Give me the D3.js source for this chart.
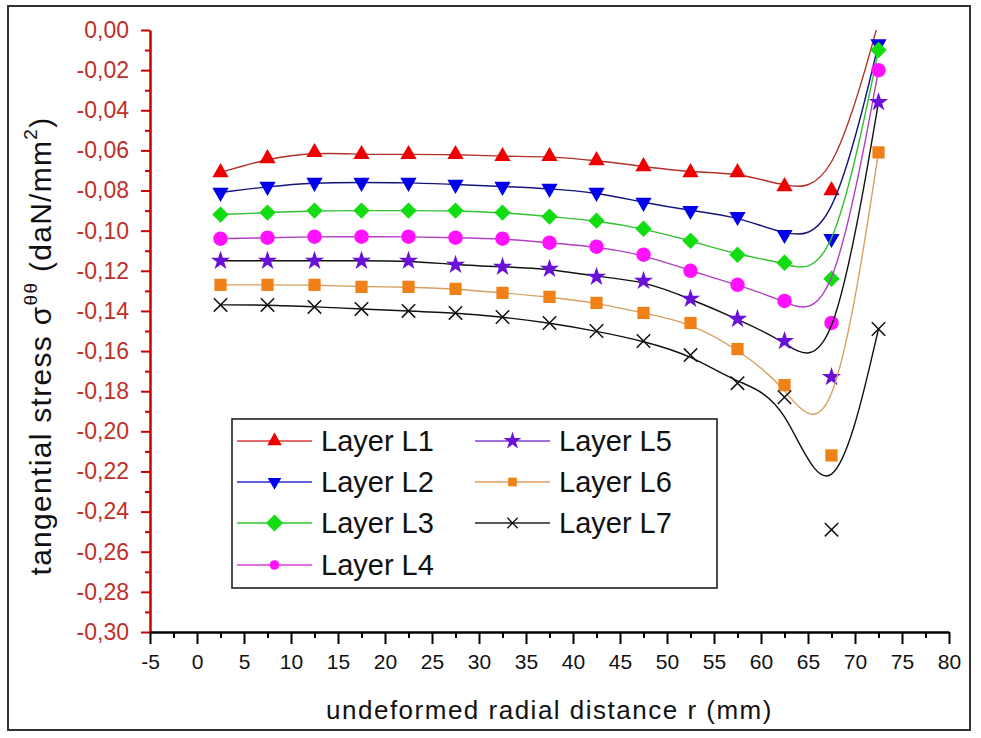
<!DOCTYPE html>
<html>
<head>
<meta charset="utf-8">
<script src="https://cdn.jsdelivr.net/npm/d3@7"></script>
<style>
  html, body { margin: 0; padding: 0; background: #fff; }
  svg text { font-family: "Liberation Sans", Arial, sans-serif; }
</style>
</head>
<body>
<div id="chart"></div>
<script>
// radial positions (mm)
const radius = [2.5, 7.5, 12.5, 17.5, 22.5, 27.5, 32.5, 37.5, 42.5, 47.5, 52.5, 57.5, 62.5, 67.5, 72.5];

// tangential stress per layer (daN/mm2)
const layerL1 = [-0.071, -0.064, -0.061, -0.062, -0.062, -0.062, -0.063, -0.063, -0.065, -0.068, -0.071, -0.071, -0.078, -0.080, 0.004];
const layerL2 = [-0.081, -0.078, -0.076, -0.076, -0.076, -0.077, -0.078, -0.079, -0.081, -0.086, -0.090, -0.093, -0.102, -0.104, -0.007];
const layerL3 = [-0.092, -0.091, -0.090, -0.090, -0.090, -0.090, -0.091, -0.093, -0.095, -0.099, -0.105, -0.112, -0.116, -0.124, -0.010];
const layerL4 = [-0.104, -0.1035, -0.103, -0.103, -0.103, -0.1035, -0.104, -0.106, -0.108, -0.112, -0.120, -0.127, -0.135, -0.146, -0.020];
const layerL5 = [-0.115, -0.115, -0.115, -0.115, -0.115, -0.117, -0.118, -0.119, -0.123, -0.125, -0.134, -0.144, -0.155, -0.173, -0.036];
const layerL6 = [-0.127, -0.127, -0.127, -0.128, -0.128, -0.129, -0.131, -0.133, -0.136, -0.141, -0.146, -0.159, -0.177, -0.212, -0.061];
const layerL7 = [-0.137, -0.137, -0.138, -0.139, -0.140, -0.141, -0.143, -0.146, -0.150, -0.155, -0.162, -0.176, -0.183, -0.249, -0.149];

const layerNames = ["Layer L1", "Layer L2", "Layer L3", "Layer L4", "Layer L5", "Layer L6", "Layer L7"];

// axis ticks
const xTicks = [-5, 0, 5, 10, 15, 20, 25, 30, 35, 40, 45, 50, 55, 60, 65, 70, 75, 80];
const xMinorTicks = [-2.5, 2.5, 7.5, 12.5, 17.5, 22.5, 27.5, 32.5, 37.5, 42.5, 47.5, 52.5, 57.5, 62.5, 67.5, 72.5, 77.5];
const yTicks = [0, -0.02, -0.04, -0.06, -0.08, -0.10, -0.12, -0.14, -0.16, -0.18, -0.20, -0.22, -0.24, -0.26, -0.28, -0.30];
const yTickLabels = ["0,00", "-0,02", "-0,04", "-0,06", "-0,08", "-0,10", "-0,12", "-0,14", "-0,16", "-0,18", "-0,20", "-0,22", "-0,24", "-0,26", "-0,28", "-0,30"];
const yMinorTicks = [-0.01, -0.03, -0.05, -0.07, -0.09, -0.11, -0.13, -0.15, -0.17, -0.19, -0.21, -0.23, -0.25, -0.27, -0.29];

// an "x" marker, in case this d3 build has no symbolTimes
const symbolX = {
    draw(context, size) {
        const r = Math.sqrt(size) / 2;
        context.moveTo(-r, -r); context.lineTo(r, r);
        context.moveTo(r, -r); context.lineTo(-r, r);
    }
};

// one style per layer: marker shape, marker colour, line colour in plot / legend
const styles = [
    { values: layerL1, shape: d3.symbolTriangle, rot: 0, size: 115, fill: "#ee0000", line: "#b0302a", legendLine: "#e03a3a" },
    { values: layerL2, shape: d3.symbolTriangle, rot: 180, size: 115, fill: "#0000ee", line: "#14147a", legendLine: "#2a2ad0" },
    { values: layerL3, shape: d3.symbolSquare, rot: 45, size: 135, fill: "#11dd11", line: "#30c030", legendLine: "#30c030" },
    { values: layerL4, shape: d3.symbolCircle, rot: 0, size: 165, fill: "#ff11ff", line: "#b040c0", legendLine: "#d040d0" },
    { values: layerL5, shape: d3.symbolStar, rot: 0, size: 115, fill: "#6a10d8", line: "#111111", legendLine: "#8040d0" },
    { values: layerL6, shape: d3.symbolSquare, rot: 0, size: 150, fill: "#f08018", line: "#d8a060", legendLine: "#e0a060" },
    { values: layerL7, shape: symbolX, rot: 0, size: 180, fill: "none", stroke: "#111", line: "#111111", legendLine: "#222" }
];

const W = 981, H = 738;
const plot = { left: 150, right: 949, top: 30, bottom: 632 };

const svg = d3.select("#chart").append("svg")
    .attr("width", W)
    .attr("height", H);

// outer frame of the picture
svg.append("rect")
    .attr("x", 8).attr("y", 6)
    .attr("width", 962).attr("height", 724)
    .attr("fill", "#fff")
    .attr("stroke", "#333")
    .attr("stroke-width", 2);

const x = d3.scaleLinear().domain([-5, 80]).range([plot.left, plot.right]);
const y = d3.scaleLinear().domain([-0.30, 0]).range([plot.bottom, plot.top]);

svg.append("clipPath").attr("id", "plotClip")
    .append("rect")
    .attr("x", plot.left).attr("y", plot.top)
    .attr("width", plot.right - plot.left).attr("height", plot.bottom - plot.top);

// Y axis (red)
const yMinor = svg.append("g")
    .attr("transform", `translate(${plot.left},0)`)
    .call(d3.axisLeft(y).tickValues(yMinorTicks).tickSize(5).tickFormat(""));
yMinor.select(".domain").remove();
yMinor.selectAll("line").attr("stroke", "#cc0000").attr("stroke-width", 2);

const yAxis = svg.append("g")
    .attr("transform", `translate(${plot.left},0)`)
    .call(d3.axisLeft(y).tickValues(yTicks).tickSize(9).tickSizeOuter(0)
        .tickFormat((d, i) => yTickLabels[i]));
yAxis.select(".domain").attr("stroke", "#cc0000").attr("stroke-width", 2.5);
yAxis.selectAll("line").attr("stroke", "#cc0000").attr("stroke-width", 2);
yAxis.selectAll("text")
    .attr("fill", "#c0302a")
    .attr("x", -21)
    .style("font-size", "23px");

// X axis (black)
const xMinor = svg.append("g")
    .attr("transform", `translate(0,${plot.bottom})`)
    .call(d3.axisBottom(x).tickValues(xMinorTicks).tickSize(6).tickFormat(""));
xMinor.select(".domain").remove();
xMinor.selectAll("line").attr("stroke", "#000").attr("stroke-width", 2);

const xAxis = svg.append("g")
    .attr("transform", `translate(0,${plot.bottom})`)
    .call(d3.axisBottom(x).tickValues(xTicks).tickSize(12).tickSizeOuter(0)
        .tickFormat(d => String(d)));
xAxis.select(".domain").attr("stroke", "#000").attr("stroke-width", 2.5);
xAxis.selectAll("line").attr("stroke", "#000").attr("stroke-width", 2);
xAxis.selectAll("text")
    .attr("fill", "#111")
    .attr("y", 22)
    .style("font-size", "21px");

// axis titles
svg.append("text")
    .attr("x", (plot.left + plot.right) / 2)
    .attr("y", 719)
    .attr("text-anchor", "middle")
    .attr("fill", "#111")
    .style("font-size", "26px")
    .style("letter-spacing", "1.5px")
    .text("undeformed radial distance r (mm)");

const yTitle = svg.append("text")
    .attr("transform", "translate(51,346) rotate(-90)")
    .attr("text-anchor", "middle")
    .attr("fill", "#111")
    .style("font-size", "30px")
    .style("letter-spacing", "1.3px");
yTitle.append("tspan").text("tangential stress σ");
yTitle.append("tspan").attr("dy", -14).style("font-size", "19px").text("θθ");
yTitle.append("tspan").attr("dy", 14).text(" (daN/mm");
yTitle.append("tspan").attr("dy", -14).style("font-size", "19px").text("2");
yTitle.append("tspan").attr("dy", 14).text(")");

// series
const line = d3.line()
    .x((d, i) => x(radius[i]))
    .y(d => y(d))
    .curve(d3.curveBasis);

const series = svg.append("g").attr("clip-path", "url(#plotClip)");

styles.forEach(s => {
    series.append("path")
        .attr("d", line(s.values))
        .attr("fill", "none")
        .attr("stroke", s.line)
        .attr("stroke-width", 1.4);

    const pts = s.values
        .map((v, i) => ({ r: radius[i], v }))
        .filter(p => p.v <= 0 && p.v >= -0.30);

    series.selectAll(null)
        .data(pts)
        .enter()
        .append("path")
        .attr("d", d3.symbol().type(s.shape).size(s.size))
        .attr("transform", p => `translate(${x(p.r)},${y(p.v)}) rotate(${s.rot})`)
        .attr("fill", s.fill)
        .attr("stroke", s.stroke || "none")
        .attr("stroke-width", s.stroke ? 1.5 : 0);
});

// legend
const legend = svg.append("g");
legend.append("rect")
    .attr("x", 232).attr("y", 419)
    .attr("width", 485).attr("height", 169)
    .attr("fill", "#fff")
    .attr("stroke", "#222")
    .attr("stroke-width", 1.6);

const legendCols = [237, 475];
const legendRows = [441, 482, 523, 565];
const legendScale = [0.8, 0.7, 1.1, 0.45, 0.85, 0.5, 0.6];

layerNames.forEach((name, i) => {
    const s = styles[i];
    const col = i < 4 ? 0 : 1;
    const row = i < 4 ? i : i - 4;
    const lx = legendCols[col], ly = legendRows[row];
    const item = legend.append("g").attr("transform", `translate(${lx},${ly})`);
    item.append("line")
        .attr("x1", 0).attr("x2", 75)
        .attr("stroke", s.legendLine)
        .attr("stroke-width", 1.6);
    item.append("path")
        .attr("d", d3.symbol().type(s.shape).size(s.size * legendScale[i]))
        .attr("transform", `translate(37.5,0) rotate(${s.rot})`)
        .attr("fill", s.fill === "none" ? "#fff" : s.fill)
        .attr("stroke", s.stroke || "none")
        .attr("stroke-width", s.stroke ? 1.3 : 0);
    item.append("text")
        .attr("x", 84)
        .attr("y", 10)
        .attr("fill", "#111")
        .style("font-size", "29px")
        .text(name);
});
</script>
</body>
</html>
